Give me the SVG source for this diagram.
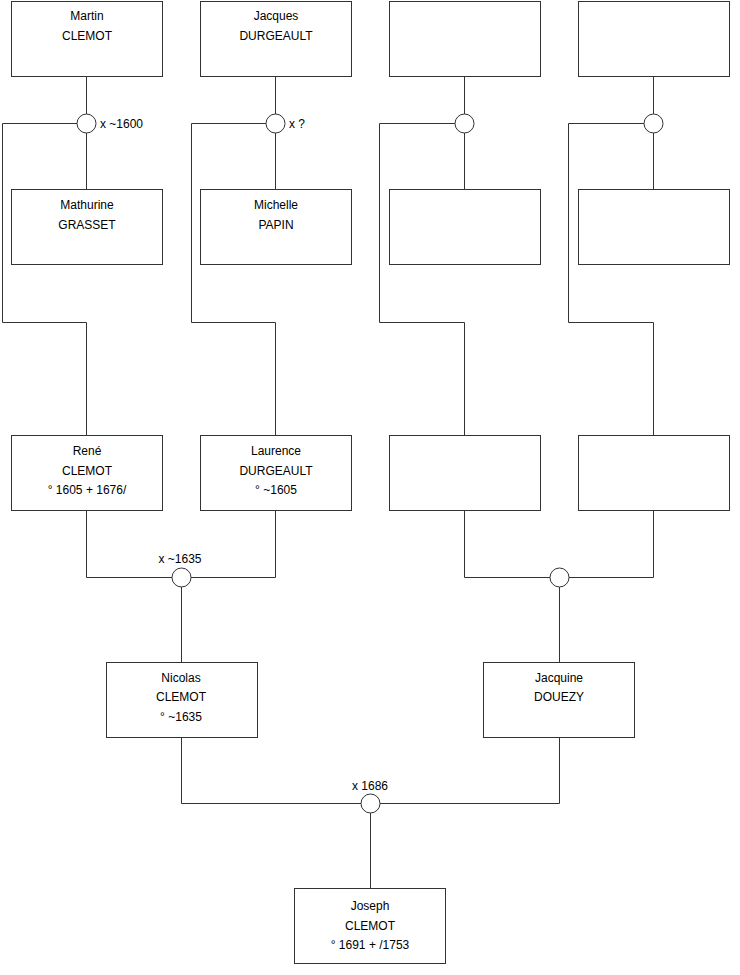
<svg xmlns="http://www.w3.org/2000/svg" width="740" height="975" viewBox="0 0 740 975">
<style>
.box{fill:#fff;stroke:#333;stroke-width:1}
.c{fill:#fff;stroke:#333;stroke-width:1}
.ln{fill:none;stroke:#333;stroke-width:1}
text{font-family:"Liberation Sans",Arial,sans-serif;font-size:12px;fill:#000}
.m{text-anchor:middle}
</style>
<rect width="740" height="975" fill="#fff"/>
<g id="connectors">
<path class="ln" d="M86.5 76V189M86.5 123.5H2.5V322.5H86.5V435"/>
<path class="ln" d="M275.5 76V189M275.5 123.5H191.5V322.5H275.5V435"/>
<path class="ln" d="M464.5 76V189M464.5 123.5H379.5V322.5H464.5V435"/>
<path class="ln" d="M653.5 76V189M653.5 123.5H568.5V322.5H653.5V435"/>
<path class="ln" d="M86.5 511V577.5H275.5V511M181.5 577.5V662"/>
<path class="ln" d="M464.5 511V577.5H653.5V511M559.5 577.5V662"/>
<path class="ln" d="M181.5 737V803.5H559.5V737M370.5 803.5V888"/>
</g>
<g id="u1"><circle class="c" cx="86.5" cy="123.5" r="9.5"/><text x="100" y="128">x ~1600</text></g>
<g id="u2"><circle class="c" cx="275.5" cy="123.5" r="9.5"/><text x="289" y="128">x ?</text></g>
<g id="u3"><circle class="c" cx="464.5" cy="123.5" r="9.5"/></g>
<g id="u4"><circle class="c" cx="653.5" cy="123.5" r="9.5"/></g>
<g id="u5"><circle class="c" cx="181.5" cy="577.5" r="9.5"/><text class="m" x="180" y="563">x ~1635</text></g>
<g id="u6"><circle class="c" cx="559.5" cy="577.5" r="9.5"/></g>
<g id="u7"><circle class="c" cx="370.5" cy="803.5" r="9.5"/><text class="m" x="370" y="790">x 1686</text></g>

<g id="martin"><rect class="box" x="11.5" y="1.5" width="151" height="75"/><text class="m" x="87" y="20">Martin</text><text class="m" x="87" y="40">CLEMOT</text></g>
<g id="jacques"><rect class="box" x="200.5" y="1.5" width="151" height="75"/><text class="m" x="276" y="20">Jacques</text><text class="m" x="276" y="40">DURGEAULT</text></g>
<g id="p3"><rect class="box" x="389.5" y="1.5" width="151" height="75"/></g>
<g id="p4"><rect class="box" x="578.5" y="1.5" width="151" height="75"/></g>

<g id="mathurine"><rect class="box" x="11.5" y="189.5" width="151" height="75"/><text class="m" x="87" y="209">Mathurine</text><text class="m" x="87" y="229">GRASSET</text></g>
<g id="michelle"><rect class="box" x="200.5" y="189.5" width="151" height="75"/><text class="m" x="276" y="209">Michelle</text><text class="m" x="276" y="229">PAPIN</text></g>
<g id="p7"><rect class="box" x="389.5" y="189.5" width="151" height="75"/></g>
<g id="p8"><rect class="box" x="578.5" y="189.5" width="151" height="75"/></g>

<g id="rene"><rect class="box" x="11.5" y="435.5" width="151" height="75"/><text class="m" x="87" y="455">René</text><text class="m" x="87" y="475">CLEMOT</text><text class="m" x="87" y="494">° 1605 + 1676/</text></g>
<g id="laurence"><rect class="box" x="200.5" y="435.5" width="151" height="75"/><text class="m" x="276" y="455">Laurence</text><text class="m" x="276" y="475">DURGEAULT</text><text class="m" x="276" y="494">° ~1605</text></g>
<g id="p11"><rect class="box" x="389.5" y="435.5" width="151" height="75"/></g>
<g id="p12"><rect class="box" x="578.5" y="435.5" width="151" height="75"/></g>

<g id="nicolas"><rect class="box" x="106.5" y="662.5" width="151" height="75"/><text class="m" x="181" y="682">Nicolas</text><text class="m" x="181" y="701">CLEMOT</text><text class="m" x="181" y="721">° ~1635</text></g>
<g id="jacquine"><rect class="box" x="483.5" y="662.5" width="151" height="75"/><text class="m" x="559" y="682">Jacquine</text><text class="m" x="559" y="701">DOUEZY</text></g>
<g id="joseph"><rect class="box" x="294.5" y="888.5" width="151" height="75"/><text class="m" x="370" y="910">Joseph</text><text class="m" x="370" y="930">CLEMOT</text><text class="m" x="370" y="949">° 1691 + /1753</text></g>
</svg>
